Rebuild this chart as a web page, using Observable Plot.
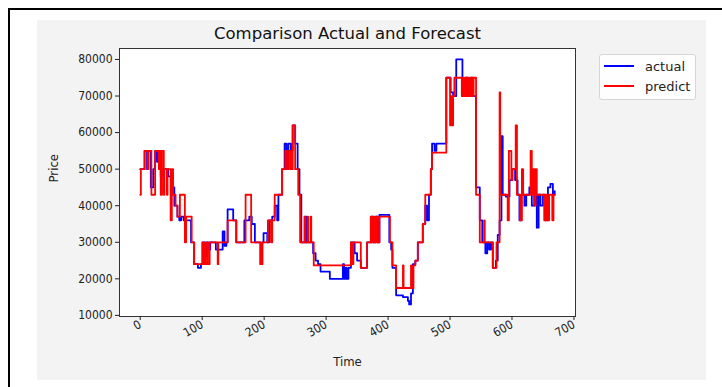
<!DOCTYPE html>
<html>
<head>
<meta charset="utf-8">
<script src="https://cdn.jsdelivr.net/npm/d3@7"></script>
<script src="https://cdn.jsdelivr.net/npm/@observablehq/plot@0.6"></script>
<style>
  html, body { margin: 0; padding: 0; background: #ffffff; }
  #wrap { position: relative; width: 722px; height: 387px; overflow: hidden; font-family: "DejaVu Sans", sans-serif; }
  #border { position: absolute; left: 8px; top: 8px; width: 730px; height: 400px; border-left: 2px solid #000; border-top: 2px solid #000; }
  #panel { position: absolute; left: 37px; top: 20px; width: 669px; height: 360px; background: #f3f3f3; }
  #chart { position: absolute; left: 0; top: 0; }
  #legend { position: absolute; left: 599px; top: 54px; width: 97px; height: 46px; background: rgba(255,255,255,0.85); border: 1px solid #d6d6d6; border-radius: 3px; box-sizing: border-box; font-size: 13px; color: #222; }
  .item { position: absolute; left: 4px; height: 16px; display: flex; align-items: center; }
  .sw { width: 30px; height: 2px; margin-right: 11px; }
</style>
</head>
<body>
<div id="wrap">
  <div id="border"></div>
  <div id="panel"></div>
  <div id="chart"></div>
  <div id="legend">
    <div class="item" style="top:3px"><div class="sw" style="background:#0000ff"></div><span>actual</span></div>
    <div class="item" style="top:23px"><div class="sw" style="background:#ff0000"></div><span>predict</span></div>
  </div>
</div>
<script>
// Change points (time index, price); each series holds its value until the next point
const actualT = [0,7,11,13,17,21,24,27,30,33,37,45,50,55,60,63,66,70,82,87,93,98,101,104,107,110,113,122,130,133,136,139,141,150,155,168,176,180,185,194,197,199,205,208,213,217,221,223,229,233,236,239,243,246,250,254,257,260,266,268,279,283,287,291,306,327,329,331,333,336,340,346,350,356,366,373,376,380,383,386,402,405,407,413,424,432,434,437,440,444,448,456,460,463,466,469,471,475,478,494,501,505,510,520,525,528,534,537,542,548,552,557,560,563,566,569,574,577,580,583,585,590,596,600,605,609,612,615,620,623,628,632,636,640,643,646,650,654,658,662,666,669];
const actualV = [50000,55000,50000,55000,45000,50000,55000,52000,55000,48000,50000,48000,45000,40000,37000,36000,37000,36000,30000,24000,23000,24000,30000,26000,30000,28000,30000,28000,28000,33000,29000,30000,39000,36000,30000,36000,37000,35000,30000,24000,30000,32500,30000,36000,37000,40000,36000,43000,50000,57000,50000,57000,55000,62000,57000,50000,43000,30000,37000,30000,27000,25000,24000,22000,20000,24000,20000,23000,20000,23000,30000,27000,25000,23000,30000,37000,30000,37000,30000,37500,30000,28000,23000,15500,15000,14000,13000,16000,24000,25000,30000,35000,40000,36000,43000,50000,57000,55000,57000,75000,71000,70000,80000,70000,75000,70000,75000,70000,45000,36000,30000,27000,30000,28000,30000,23000,25000,32000,36000,59000,43000,42500,47000,50000,47000,43000,36000,43000,40000,43000,45000,40000,43000,34000,43000,40000,43000,36000,45000,46000,43000,44000];

const predictT = [0,1,7,12,13,18,24,30,31,33,35,38,39,43,44,49,51,53,57,60,64,72,74,83,87,100,101,104,105,108,109,112,125,126,141,155,170,179,194,197,206,211,213,217,229,234,237,240,243,246,250,255,258,265,266,270,271,275,276,280,340,342,344,356,366,372,373,375,376,378,379,381,383,386,403,407,413,424,425,437,438,441,444,448,456,460,469,471,494,500,502,503,505,507,519,521,523,525,527,529,531,533,536,538,542,548,555,556,569,575,580,581,593,595,599,601,606,608,613,616,618,630,632,634,636,638,640,652,655,658,660,665,667,669];
const predictV = [43000,50000,55000,50000,55000,43000,55000,50000,55000,43000,55000,43000,50000,43000,50000,36000,50000,43000,40000,37000,43000,30000,37000,30000,24000,30000,24000,30000,24000,30000,24000,30000,24000,30000,36000,30000,43000,30000,24000,30000,36000,30000,36000,43000,50000,55000,50000,55000,50000,62000,50000,43000,30000,37000,30000,37000,30000,37000,30000,23700,30000,24000,30000,23000,30000,37000,30000,37000,30000,37000,30000,37000,30000,37000,30000,23700,17500,23700,17500,23700,17500,23700,25000,30000,35000,43000,50000,54500,75000,62000,70000,62000,70000,75000,70000,75000,70000,75000,70000,75000,70000,75000,70000,75000,43000,30000,36000,30000,23000,30000,71000,43000,36000,55000,47000,50000,62000,43000,36000,50000,43000,55000,43000,50000,40000,50000,43000,36000,43000,36000,43000,36000,43000,43000];

const yTicks = [10000,20000,30000,40000,50000,60000,70000,80000];
const xTicks = [0,100,200,300,400,500,600,700];

const actual = actualT.map((t, i) => ({t, v: actualV[i]}));
const predict = predictT.map((t, i) => ({t, v: predictV[i]}));

const condensed = '"DejaVu Sans Condensed", "DejaVu Sans", sans-serif';

const chart = Plot.plot({
  width: 722,
  height: 387,
  marginLeft: 119,
  marginRight: 147,
  marginTop: 48,
  marginBottom: 71,
  style: {background: "transparent", fontFamily: condensed, fontSize: "12px", color: "#222", overflow: "visible"},
  x: {domain: [-33.5, 702.5]},
  y: {domain: [9700, 83000]},
  marks: [
    Plot.frame({fill: "white", stroke: "none"}),
    Plot.line(actual, {x: "t", y: "v", curve: "step-after", stroke: "#0000ff", strokeWidth: 1.8}),
    Plot.line(predict, {x: "t", y: "v", curve: "step-after", stroke: "#ff0000", strokeWidth: 1.8}),
    Plot.frame({stroke: "#333", strokeWidth: 1}),
    Plot.axisY({ticks: yTicks, tickFormat: d => String(d), tickSize: 4, tickPadding: 3, label: null}),
    Plot.axisX({ticks: xTicks, tickFormat: d => String(d), tickSize: 4, tickPadding: 3, tickRotate: -30, label: null}),
    Plot.text(["Comparison Actual and Forecast"], {frameAnchor: "top", dy: -15, lineAnchor: "middle", fontFamily: '"DejaVu Sans", sans-serif', fontSize: 16.5, fill: "#111"}),
    Plot.text(["Time"], {frameAnchor: "bottom", dy: 45, lineAnchor: "middle", fontSize: 13, fill: "#222"}),
    Plot.text(["Price"], {frameAnchor: "left", dx: -66, rotate: -90, lineAnchor: "middle", fontSize: 13, fill: "#222"})
  ]
});
document.getElementById("chart").appendChild(chart);
</script>
</body>
</html>
